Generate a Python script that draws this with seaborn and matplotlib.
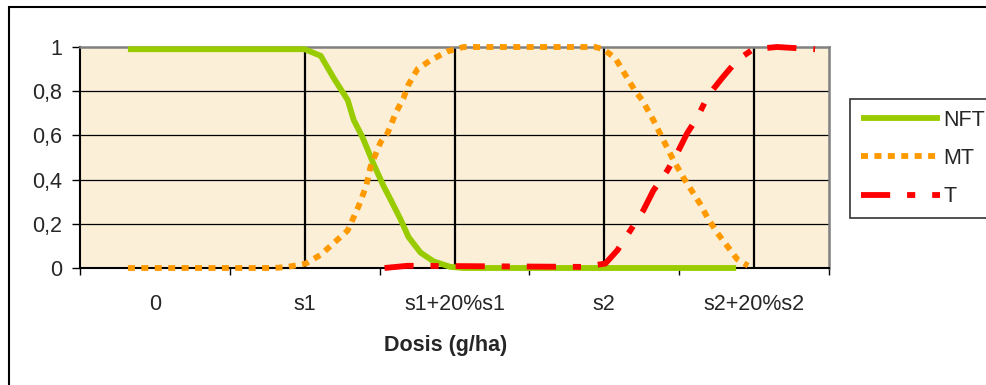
import matplotlib
matplotlib.use("Agg")
import matplotlib.pyplot as plt
import seaborn as sns
import pandas as pd
from matplotlib.lines import Line2D
from matplotlib.patches import Rectangle

# ---- data (x in category units: 0 -> "0", 1 -> "s1", ...) ----
categories = ["0", "s1", "s1+20%s1", "s2", "s2+20%s2"]

nft_x = [-0.18, 1.0, 1.107, 1.193, 1.287, 1.327, 1.387, 1.46, 1.527, 1.573,
         1.64, 1.693, 1.773, 1.86, 1.973, 2.06, 3.88]
nft_y = [0.99, 0.99, 0.96, 0.86, 0.76, 0.67, 0.59, 0.47, 0.37, 0.31,
         0.22, 0.14, 0.07, 0.03, 0.005, 0.0, 0.0]

mt_x = [-0.18, 0.793, 0.887, 1.007, 1.107, 1.173, 1.287, 1.327, 1.36, 1.41,
        1.44, 1.507, 1.553, 1.607, 1.66, 1.693, 1.753, 1.84, 1.953, 2.06,
        2.94, 2.993, 3.073, 3.153, 3.207, 3.253, 3.327, 3.393, 3.46, 3.527,
        3.593, 3.64, 3.687, 3.753, 3.82, 3.887, 3.96]
mt_y = [0.0, 0.0, 0.005, 0.02, 0.06, 0.10, 0.17, 0.23, 0.28, 0.37,
        0.46, 0.57, 0.61, 0.70, 0.77, 0.83, 0.90, 0.94, 0.98, 1.0,
        1.0, 0.99, 0.95, 0.86, 0.80, 0.76, 0.67, 0.58, 0.49, 0.41,
        0.34, 0.29, 0.23, 0.16, 0.10, 0.04, 0.01]

t_x = [1.533, 1.687, 2.86, 3.007, 3.087, 3.193, 3.26, 3.327, 3.42, 3.487,
       3.553, 3.62, 3.693, 3.787, 3.887, 3.993, 4.153, 4.407]
t_y = [0.0, 0.01, 0.005, 0.02, 0.08, 0.19, 0.26, 0.35, 0.44, 0.52,
       0.61, 0.68, 0.78, 0.86, 0.94, 0.99, 1.0, 0.99]

series_names = ["NFT", "MT", "T"]
y_ticks = [0, 0.2, 0.4, 0.6, 0.8, 1]
y_tick_labels = ["0", "0,2", "0,4", "0,6", "0,8", "1"]
x_label = "Dosis (g/ha)"

# ---- styling ----
sns.set_theme(style="white")
plt.rcParams["font.family"] = ["Liberation Sans", "DejaVu Sans"]
FS = 15.5

W, H = 986, 385
fig = plt.figure(figsize=(W / 100, H / 100), dpi=100)
L, R, T, B = 80, 829, 47, 268
ax = fig.add_axes([L / W, 1 - B / H, (R - L) / W, (B - T) / H])
ax.set_facecolor("#FBEFD7")

colors = {"NFT": "#99CC00", "MT": "#FF9900", "T": "#FF0000"}
styles = {"NFT": "-", "MT": (0, (1.2, 1.1)), "T": (0, (5.0, 2.9, 1.4, 2.9))}
lw = 4.2

data = {"NFT": (nft_x, nft_y), "MT": (mt_x, mt_y), "T": (t_x, t_y)}
for name in series_names:
    xs, ys = data[name]
    df = pd.DataFrame({"x": xs, "y": ys})
    sns.lineplot(data=df, x="x", y="y", ax=ax, color=colors[name], lw=lw,
                 estimator=None, sort=False, legend=False)
    ln = ax.lines[-1]
    ln.set_linestyle(styles[name])
    ln.set_dash_capstyle("butt")
    ln.set_solid_capstyle("butt")
    ln.set_clip_on(False)
    ln.set_zorder(5)

# grid & vertical category lines
for yv in y_ticks[1:-1]:
    ax.axhline(yv, color="black", lw=0.9, zorder=1)
for i in range(1, len(categories)):
    ax.axvline(i, color="black", lw=1.6, zorder=2)

ax.set_xlim(-0.5, len(categories) - 0.5)
ax.set_ylim(0, 1)

ax.set_yticks(y_ticks)
ax.set_yticklabels(y_tick_labels, fontsize=FS)
ax.tick_params(axis="y", which="major", direction="out", length=6, width=1,
               color="black", pad=7, left=True)

ax.set_xticks([i - 0.5 for i in range(len(categories) + 1)])
ax.set_xticklabels([""] * (len(categories) + 1))
ax.set_xticks(range(len(categories)), minor=True)
ax.set_xticklabels(categories, minor=True, fontsize=FS)
ax.tick_params(axis="x", which="major", direction="out", length=5, width=1,
               color="black", bottom=True)
ax.tick_params(axis="x", which="minor", length=0, pad=19)

for s in ["left", "bottom"]:
    ax.spines[s].set_color("black")
    ax.spines[s].set_linewidth(1.5)
for s in ["top", "right"]:
    ax.spines[s].set_color("#808080")
    ax.spines[s].set_linewidth(1.8)

ax.set_xlabel(x_label, fontsize=FS, fontweight="bold")
ax.xaxis.set_label_coords((446 - L) / (R - L), (B - 345) / (B - T))
ax.xaxis.label.set_va("center")
ax.set_ylabel("")

# legend
handles = [Line2D([], [], color=colors[n], lw=lw, linestyle=styles[n],
                  dash_capstyle="butt", solid_capstyle="butt")
           for n in series_names]
leg = fig.legend(handles, series_names, loc="upper left",
                 bbox_to_anchor=(850 / W, 1 - 99 / H), borderaxespad=0,
                 frameon=True, fancybox=False, edgecolor="black",
                 fontsize=FS, handlelength=3.7, handletextpad=0.15,
                 labelspacing=0.8, borderpad=0.5)
leg.get_frame().set_linewidth(1.2)

# outer chart border (cropped at right/bottom)
fig.add_artist(Rectangle((9 / W, -0.2), 1.2, (H - 7) / H + 0.2,
                         transform=fig.transFigure, fill=False,
                         ec="black", lw=1.5))

fig.savefig("out.png", dpi=100, facecolor="white")
